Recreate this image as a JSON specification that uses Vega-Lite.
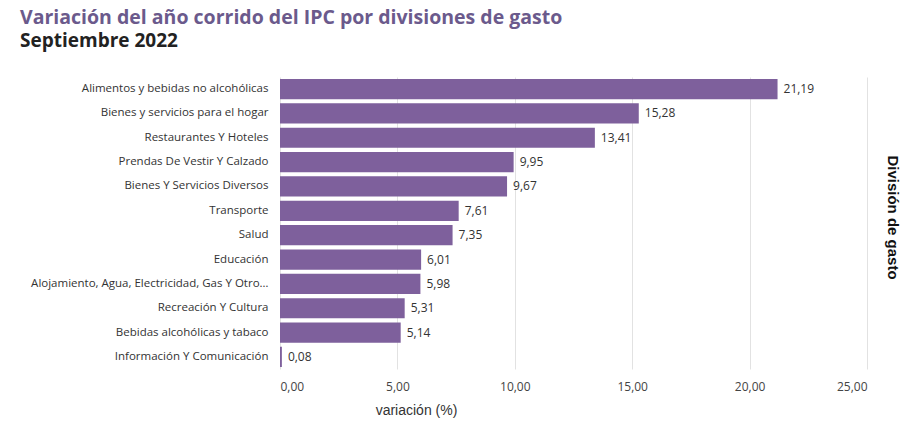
{
  "$schema": "https://vega.github.io/schema/vega-lite/v6.json",
  "autosize": "none",
  "width": 587,
  "height": 292,
  "padding": {"left": 280, "top": 77, "right": 37, "bottom": 62},
  "background": "white",
  "title": {
    "text": "Variación del año corrido del IPC por divisiones de gasto",
    "subtitle": "Septiembre 2022",
    "anchor": "start",
    "frame": "group",
    "dx": -260,
    "offset": 25,
    "font": "Open Sans",
    "fontSize": 19.5,
    "fontWeight": "bold",
    "color": "#6b5a8c",
    "subtitleFont": "Open Sans",
    "subtitleFontSize": 19,
    "subtitleFontWeight": "bold",
    "subtitleColor": "#222222",
    "subtitlePadding": 4
  },
  "data": {
    "values": [
      {"division": "Alimentos y bebidas no alcohólicas", "variacion": 21.19},
      {"division": "Bienes y servicios para el hogar", "variacion": 15.28},
      {"division": "Restaurantes Y Hoteles", "variacion": 13.41},
      {"division": "Prendas De Vestir Y Calzado", "variacion": 9.95},
      {"division": "Bienes Y Servicios Diversos", "variacion": 9.67},
      {"division": "Transporte", "variacion": 7.61},
      {"division": "Salud", "variacion": 7.35},
      {"division": "Educación", "variacion": 6.01},
      {"division": "Alojamiento, Agua, Electricidad, Gas Y Otros Combustibles", "variacion": 5.98},
      {"division": "Recreación Y Cultura", "variacion": 5.31},
      {"division": "Bebidas alcohólicas y tabaco", "variacion": 5.14},
      {"division": "Información Y Comunicación", "variacion": 0.08}
    ]
  },
  "encoding": {
    "y": {
      "field": "division",
      "type": "nominal",
      "sort": "-x",
      "scale": {"paddingInner": 0.17, "paddingOuter": 0.08},
      "axis": {
        "title": "División de gasto",
        "titleAngle": 90,
        "titleX": 612,
        "titleY": 140,
        "titleAlign": "center",
        "titleBaseline": "middle",
        "titleFont": "Liberation Sans",
        "titleFontSize": 15,
        "titleFontWeight": "bold",
        "titleColor": "#111111",
        "domain": false,
        "ticks": false,
        "labelPadding": 12,
        "labelFont": "Open Sans",
        "labelFontSize": 11.5,
        "labelColor": "#333333",
        "labelLimit": 242
      }
    },
    "x": {
      "field": "variacion",
      "type": "quantitative",
      "scale": {"domain": [0, 25]},
      "axis": {
        "title": "variación (%)",
        "values": [0, 5, 10, 15, 20, 25],
        "format": ".2f",
        "titleX": 136,
        "titleY": 34,
        "titleAlign": "center",
        "titleFont": "Liberation Sans",
        "titleFontSize": 14,
        "titleFontWeight": "normal",
        "titleColor": "#333333",
        "domain": false,
        "ticks": false,
        "labelPadding": 12,
        "labelFont": "Open Sans",
        "labelFontSize": 12,
        "labelColor": "#444444",
        "grid": true,
        "gridColor": "#e2e2e2"
      }
    }
  },
  "layer": [
    {"mark": {"type": "bar", "color": "#7e609c"}},
    {
      "mark": {"type": "text", "align": "left", "dx": 6, "font": "Open Sans", "fontSize": 12, "color": "#333333"},
      "encoding": {"text": {"field": "variacion", "type": "quantitative", "format": ".2f"}}
    }
  ],
  "config": {
    "locale": {"number": {"decimal": ",", "thousands": ".", "grouping": [3], "currency": ["", " €"]}},
    "view": {"stroke": null}
  }
}
